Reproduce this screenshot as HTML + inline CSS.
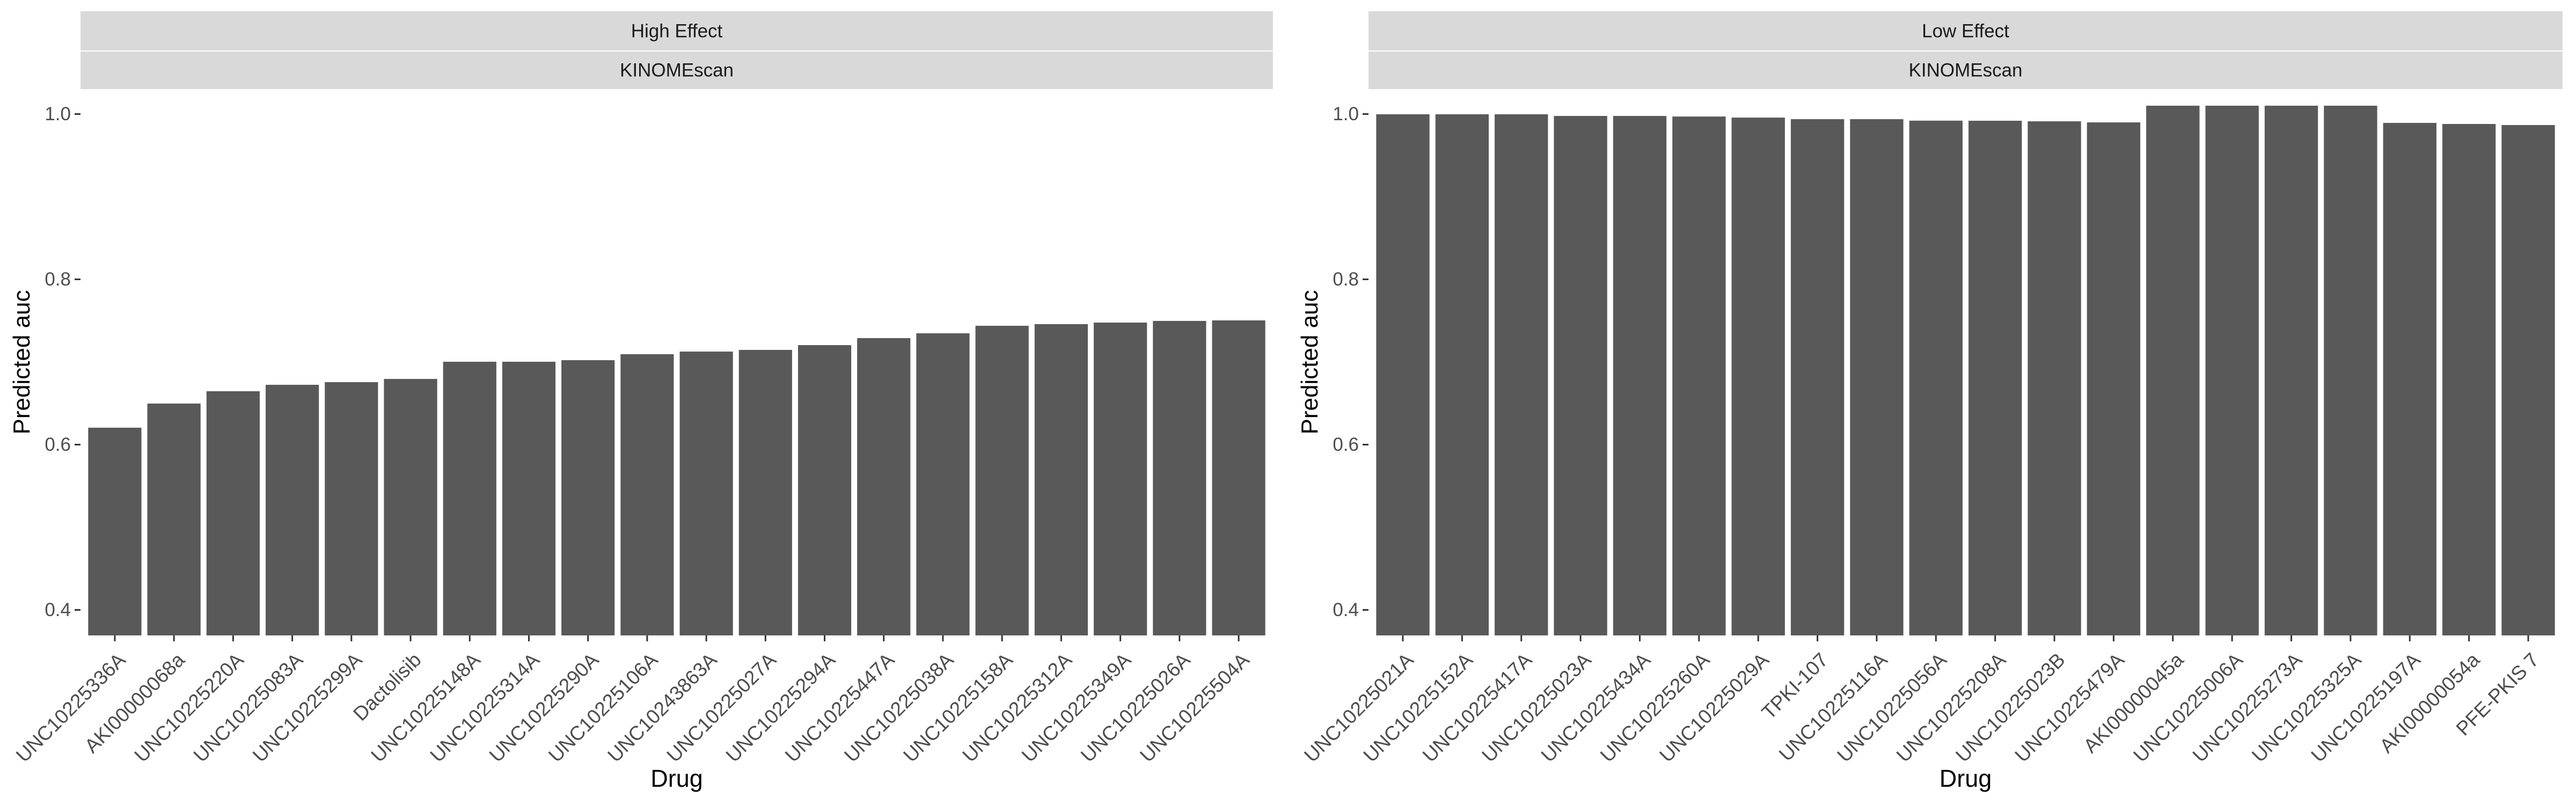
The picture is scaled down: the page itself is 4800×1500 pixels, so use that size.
<!DOCTYPE html>
<html><head><meta charset="utf-8"><style>
html,body{margin:0;padding:0;background:#fff;}
svg{display:block;font-family:"Liberation Sans",sans-serif;}
</style></head><body>
<svg id="chart" width="4800" height="1500" viewBox="0 0 4800 1500" xmlns="http://www.w3.org/2000/svg"></svg>
<script>
const leftDrugs = ["UNC10225336A","AKI00000068a","UNC10225220A","UNC10225083A","UNC10225299A","Dactolisib","UNC10225148A","UNC10225314A","UNC10225290A","UNC10225106A","UNC10243863A","UNC10225027A","UNC10225294A","UNC10225447A","UNC10225038A","UNC10225158A","UNC10225312A","UNC10225349A","UNC10225026A","UNC10225504A"];
const leftValues = [0.6205,0.6497,0.6646,0.6724,0.6756,0.6795,0.7003,0.7003,0.7022,0.7094,0.7126,0.7146,0.7204,0.7289,0.7347,0.7438,0.7458,0.7477,0.7497,0.7503];
const rightDrugs = ["UNC10225021A","UNC10225152A","UNC10225417A","UNC10225023A","UNC10225434A","UNC10225260A","UNC10225029A","TPKI-107","UNC10225116A","UNC10225056A","UNC10225208A","UNC10225023B","UNC10225479A","AKI00000045a","UNC10225006A","UNC10225273A","UNC10225325A","UNC10225197A","AKI00000054a","PFE-PKIS 7"];
const rightValues = [0.9997,0.9997,0.9997,0.9977,0.9977,0.997,0.9957,0.9938,0.9938,0.992,0.9919,0.9912,0.9899,1.0101,1.0101,1.0101,1.0101,0.9893,0.988,0.9867];
const yTicks = [0.4,0.6,0.8,1.0];
const yTickLabels = ["0.4","0.6","0.8","1.0"];
const stripTop = ["High Effect","Low Effect"];
const stripBottom = ["KINOMEscan","KINOMEscan"];

const NS="http://www.w3.org/2000/svg";
const svg=document.getElementById('chart');
function mk(tag,attrs,parent){const e=document.createElementNS(NS,tag);for(const k in attrs)e.setAttribute(k,attrs[k]);(parent||svg).appendChild(e);return e;}
const PT=166, PB=1184;
function yScale(v){return 212.5+(1-v)*1540;}
const panels=[{x0:150,x1:2372,drugs:leftDrugs,vals:leftValues,name:'high-effect'},{x0:2550,x1:4775,drugs:rightDrugs,vals:rightValues,name:'low-effect'}];
panels.forEach((p,pi)=>{
  const g=mk('g',{});
  
  
  const n=p.drugs.length;
  const slot=(p.x1-p.x0)/(n+0.16);
  const xScale=i=>p.x0+slot*(0.58+i);
  // strips
  const s1=mk('rect',{x:p.x0,y:21,width:p.x1-p.x0,height:73,fill:'#d9d9d9'},g);
  
  
  const s2=mk('rect',{x:p.x0,y:96,width:p.x1-p.x0,height:70,fill:'#d9d9d9'},g);
  
  
  const t1=mk('text',{x:(p.x0+p.x1)/2,y:58,'text-anchor':'middle','dominant-baseline':'central','font-size':35,fill:'#1a1a1a'},g);
  t1.textContent=stripTop[pi];
  
  
  const t2=mk('text',{x:(p.x0+p.x1)/2,y:131,'text-anchor':'middle','dominant-baseline':'central','font-size':35,fill:'#1a1a1a'},g);
  t2.textContent=stripBottom[pi];
  
  
  // bars
  p.vals.forEach((v,i)=>{
    const top=Math.max(PT,yScale(v));
    const b=mk('rect',{x:xScale(i)-slot*0.45,y:top,width:slot*0.9,height:PB-top,fill:'#595959'},g);
    
    
  });
  // y ticks
  yTicks.forEach((t,k)=>{
    const y=yScale(t);
    mk('line',{x1:p.x0-11,x2:p.x0,y1:y,y2:y,stroke:'#333',"stroke-width":3},g);
    const tl=mk('text',{x:p.x0-18,y:y,'text-anchor':'end','dominant-baseline':'central','font-size':35,fill:'#4d4d4d'},g);
    tl.textContent=yTickLabels[k];
    
    
  });
  // x ticks and labels
  p.drugs.forEach((d,i)=>{
    const x=xScale(i);
    mk('line',{x1:x,x2:x,y1:PB,y2:PB+11,stroke:'#333',"stroke-width":3},g);
    const tl=mk('text',{'text-anchor':'end','font-size':37,fill:'#4d4d4d',transform:`translate(${x+22},${1232}) rotate(-45)`},g);
    tl.textContent=d;
    
    
  });
  const yt=mk('text',{'text-anchor':'middle','font-size':44,fill:'#000',transform:`translate(${p.x0-95},${(PT+PB)/2}) rotate(-90)`},g);
  yt.textContent='Predicted auc';
  
  
  const xt=mk('text',{x:(p.x0+p.x1)/2,y:1466,'text-anchor':'middle','font-size':45,fill:'#000'},g);
  xt.textContent='Drug';
  
  
});
</script>
</body></html>
